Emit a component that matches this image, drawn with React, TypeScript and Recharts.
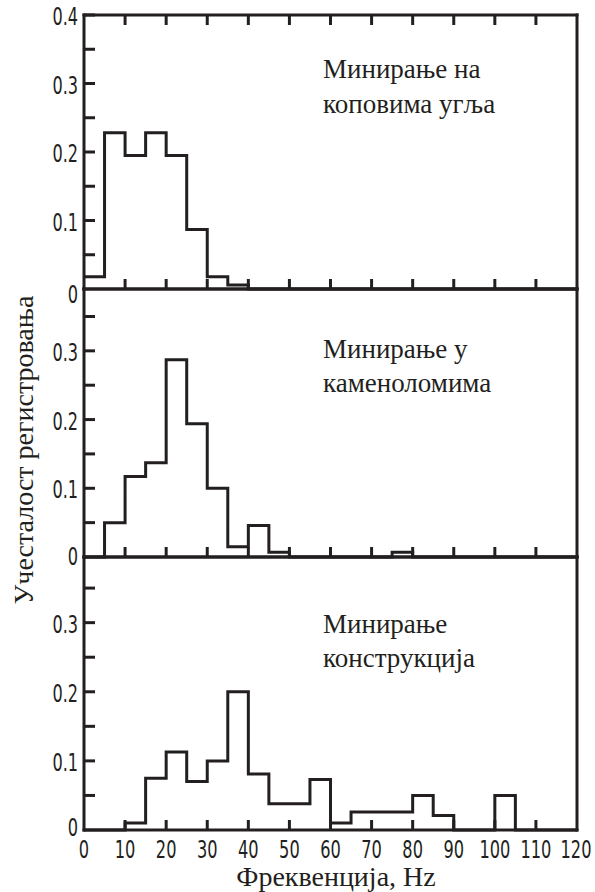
import { LineChart, Line, XAxis, YAxis, ReferenceLine } from 'recharts';

// bin starts, Hz (5 Hz bins)
const binStarts = [0, 5, 10, 15, 20, 25, 30, 35, 40, 45, 50, 55, 60, 65, 70, 75, 80, 85, 90, 95, 100, 105, 110, 115];
const binEnd = 120;

const coalMines = [0.018, 0.228, 0.195, 0.228, 0.195, 0.087, 0.018, 0.006, 0, 0, 0, 0, 0, 0, 0, 0, 0, 0, 0, 0, 0, 0, 0, 0];
const quarries = [0, 0.05, 0.117, 0.137, 0.287, 0.194, 0.1, 0.015, 0.046, 0.007, 0, 0, 0, 0, 0, 0.007, 0, 0, 0, 0, 0, 0, 0, 0];
const construction = [0, 0, 0.01, 0.075, 0.113, 0.07, 0.1, 0.2, 0.081, 0.038, 0.038, 0.073, 0.01, 0.026, 0.026, 0.026, 0.05, 0.021, 0, 0, 0.05, 0, 0, 0];

const xTicks = [0, 10, 20, 30, 40, 50, 60, 70, 80, 90, 100, 110, 120];
const yTicksTop = [0, 0.05, 0.1, 0.15, 0.2, 0.25, 0.3, 0.35, 0.4];
const yTicksLower = [0, 0.05, 0.1, 0.15, 0.2, 0.25, 0.3, 0.35];

const INK = '#231f20';
const NUM_FONT = '"Liberation Sans Narrow", "DejaVu Sans Condensed", sans-serif';
const SERIF = '"Liberation Serif", "DejaVu Serif", serif';

function toSteps(values: number[]) {
  const pts = binStarts.map((x, i) => ({ x, y: values[i] }));
  pts.push({ x: binEnd, y: values[values.length - 1] });
  return pts;
}

function yLabel(v: number) {
  if (v === 0) return '0';
  const c = Math.round(v * 100);
  return c % 10 === 0 ? (c / 100).toFixed(1) : null;
}

// condensed look: squeeze glyphs to a fixed width per character
function narrowWidth(s: string) {
  let w = 0;
  for (const ch of s) w += ch === '.' ? 5 : 10.3;
  return w;
}

const NumText = ({ x, y, anchor, children }: { x: number; y: number; anchor: 'start' | 'middle' | 'end'; children: string }) => (
  <text
    x={x}
    y={y}
    textAnchor={anchor}
    fontFamily={NUM_FONT}
    fontSize={24}
    fill={INK}
    textLength={narrowWidth(children)}
    lengthAdjust="spacingAndGlyphs"
  >
    {children}
  </text>
);

const makeYTick = (zeroDrop: number) => (props: any) => {
  const { x, y, payload } = props;
  const lab = yLabel(payload.value);
  return (
    <g>
      {payload.value > 0 && <line x1={x} x2={x + 11} y1={y} y2={y} stroke={INK} strokeWidth={3} />}
      {lab && (
        <NumText x={x - 6} y={y + (payload.value === 0 ? zeroDrop : 10)} anchor="end">
          {lab}
        </NumText>
      )}
    </g>
  );
};

const makeXTick = (dir: 'up' | 'down', showLabel: boolean) => (props: any) => {
  const { x, y, payload } = props;
  const v = payload.value;
  return (
    <g>
      {v > 0 && v < 120 && (
        <line x1={x} x2={x} y1={y} y2={dir === 'up' ? y - 10 : y + 10} stroke={INK} strokeWidth={3} />
      )}
      {showLabel && (
        <NumText x={v === 120 ? x - 1 : x} y={y + 28} anchor="middle">
          {String(v)}
        </NumText>
      )}
    </g>
  );
};

const axisLine = { stroke: INK, strokeWidth: 3, strokeLinecap: 'square' as const };

type PanelProps = {
  values: number[];
  top: number;
  plotHeight: number;
  topPad: number;
  bottomPad: number;
  yMax: number;
  yTicks: number[];
  zeroDrop: number;
  topTicks?: boolean;
  xLabels?: boolean;
};

function Panel({ values, top, plotHeight, topPad, bottomPad, yMax, yTicks, zeroDrop, topTicks, xLabels }: PanelProps) {
  const h = topPad + plotHeight + bottomPad;
  return (
    <div style={{ position: 'absolute', left: 0, top }}>
      <LineChart width={595} height={h} data={toSteps(values)} margin={{ top: 0, right: 18, bottom: 0, left: 0 }}>
        <XAxis
          xAxisId="b"
          type="number"
          dataKey="x"
          domain={[0, 120]}
          ticks={xTicks}
          orientation="bottom"
          height={bottomPad}
          axisLine={axisLine}
          tickLine={false}
          tickSize={0}
          tickMargin={0}
          tick={makeXTick('up', !!xLabels)}
          interval={0}
        />
        <XAxis
          xAxisId="t"
          type="number"
          dataKey="x"
          domain={[0, 120]}
          ticks={xTicks}
          orientation="top"
          height={topPad}
          axisLine={axisLine}
          tickLine={false}
          tickSize={0}
          tickMargin={0}
          tick={topTicks ? makeXTick('down', false) : false}
          interval={0}
        />
        <YAxis
          type="number"
          domain={[0, yMax]}
          ticks={yTicks}
          width={84}
          axisLine={axisLine}
          tickLine={false}
          tickSize={0}
          tickMargin={0}
          tick={makeYTick(zeroDrop)}
          interval={0}
        />
        <ReferenceLine xAxisId="b" x={120} stroke={INK} strokeWidth={3} strokeLinecap="square" />
        <Line
          xAxisId="b"
          type="stepAfter"
          dataKey="y"
          stroke={INK}
          strokeWidth={3}
          strokeLinejoin="miter"
          dot={false}
          activeDot={false}
          isAnimationActive={false}
        />
      </LineChart>
    </div>
  );
}

export default function App() {
  return (
    <div style={{ position: 'absolute', left: 0, top: 0, width: 595, height: 892, background: '#fff' }}>
      <Panel values={coalMines} top={0} topPad={15} plotHeight={274} bottomPad={20} yMax={0.4} yTicks={yTicksTop} zeroDrop={14} topTicks />
      <Panel values={quarries} top={277} topPad={12} plotHeight={268} bottomPad={16} yMax={0.39} yTicks={yTicksLower} zeroDrop={8} />
      <Panel values={construction} top={545} topPad={12} plotHeight={273} bottomPad={36} yMax={0.395} yTicks={yTicksLower} zeroDrop={6} xLabels />
      <svg width={595} height={892} style={{ position: 'absolute', left: 0, top: 0, pointerEvents: 'none' }}>
        <g fontFamily={SERIF} fontSize={27} fill={INK}>
          <text x={323} y={78}>Минирање на</text>
          <text x={323} y={113}>коповима угља</text>
          <text x={323} y={358}>Минирање у</text>
          <text x={323} y={392}>каменоломима</text>
          <text x={323} y={633}>Минирање</text>
          <text x={323} y={667}>конструкција</text>
        </g>
        <g fontFamily={SERIF} fontSize={28} fill={INK}>
          <text x={336} y={886} textAnchor="middle">Фреквенција, Hz</text>
          <text transform="translate(33,450) rotate(-90)" textAnchor="middle">Учесталост регистровања</text>
        </g>
      </svg>
    </div>
  );
}
